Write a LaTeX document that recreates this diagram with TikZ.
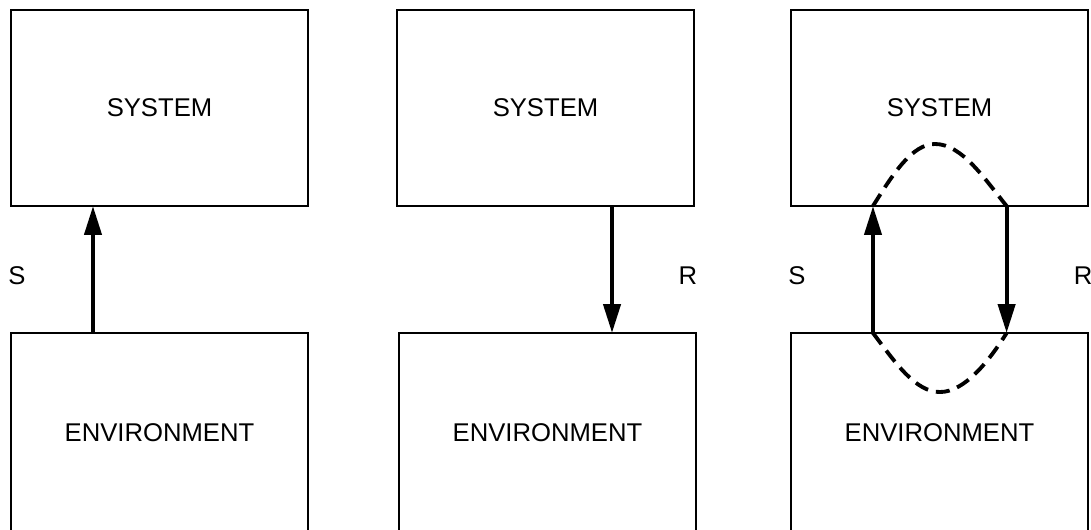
\documentclass[tikz,border=0pt]{standalone}
\usepackage{fontspec}
\setmainfont{Liberation Sans}
\usepackage{tikz}
\usetikzlibrary{arrows.meta,positioning,calc}
\tikzset{
  blk/.style={draw=black, line width=1.1pt, minimum width=5.94cm,
              minimum height=#1, inner sep=0pt, outer sep=0pt,
              font=\fontsize{14.6}{17}\selectfont},
  blk/.default=3.92cm,
  flow/.style={line width=2.4pt, -{Triangle[length=5.8mm,width=3.4mm]}},
  loopy/.style={line width=2.2pt, dash pattern=on 2.8mm off 1.6mm},
  lbl/.style={font=\fontsize{14.6}{17}\selectfont, inner sep=0pt},
}

\begin{document}
\begin{tikzpicture}[x=0.02cm, y=-0.02cm]
  \useasboundingbox (0,0) rectangle (1091,529);
  \foreach \c/\xs/\xe in {1/159.5/159.5, 2/545.5/547.5, 3/939.5/939.5} {
    \node[blk] (sys\c) at (\xs,108) {SYSTEM};
    \node[blk=4cm] (env\c) at (\xe,433) {ENVIRONMENT};
  }
  % labels
  \node[lbl] (s1lbl) at (17,276) {S};
  \node[lbl] (r2lbl) at (688,276) {R};
  \node[lbl] (s3lbl) at (797,276) {S};
  \node[lbl] (r3lbl) at (1083,276) {R};
  % feed points on the box edges
  \coordinate (s1) at ($(env1.north west)!0.276!(env1.north east)$);
  \coordinate (r2) at ($(sys2.south west)!0.724!(sys2.south east)$);
  \coordinate (s3) at ($(env3.north west)!0.276!(env3.north east)$);
  \coordinate (r3) at ($(sys3.south west)!0.726!(sys3.south east)$);
  \coordinate (s3t) at (s3 |- sys3.south);
  \coordinate (r3b) at (r3 |- env3.north);
  \draw[flow] (s1) -- (s1 |- sys1.south);
  \draw[flow] (r2) -- (r2 |- env2.north);
  \draw[flow] (s3) -- (s3t);
  \draw[flow] (r3) -- (r3b);
  % closing the loop
  \draw[loopy] (s3t) .. controls ($(s3t)+(20,-32)$) and ($(s3t)+(39,-62)$) .. ($(s3t)+(62,-62)$)
               .. controls ($(s3t)+(89,-62)$) and ($(r3)+(-22,-27)$) .. (r3);
  \draw[loopy] (s3) .. controls ($(s3)+(22,29)$) and ($(s3)+(42,59)$) .. ($(s3)+(67,59)$)
               .. controls ($(s3)+(92,59)$) and ($(r3b)+(-17,27)$) .. (r3b);
\end{tikzpicture}
\end{document}
